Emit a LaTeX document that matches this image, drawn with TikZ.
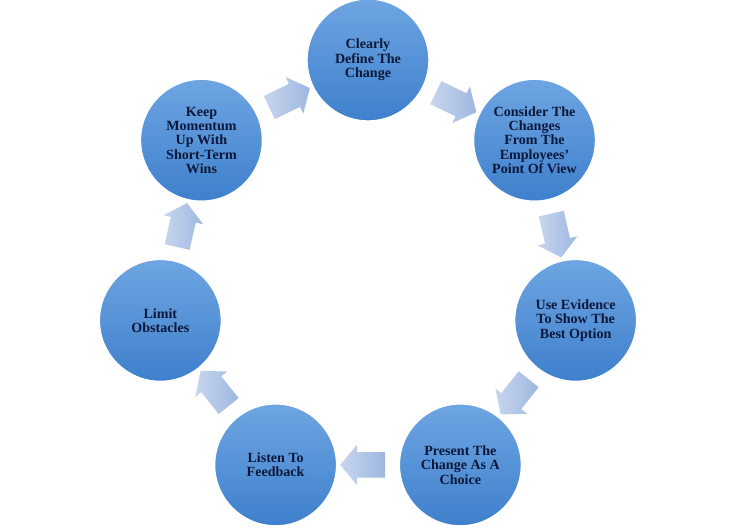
\documentclass[tikz,border=0pt]{standalone}
\usepackage{fontspec}
\setmainfont{Liberation Serif}
\usepackage{tikz}
\usetikzlibrary{shapes.arrows,calc}
\definecolor{circtop}{RGB}{110,165,226}
\definecolor{circbot}{RGB}{62,128,204}
\definecolor{arrtail}{RGB}{200,214,238}
\definecolor{arrtip}{RGB}{158,183,224}
\definecolor{textnavy}{RGB}{12,24,58}
\tikzset{
  stepcircle/.style={circle, draw=white, line width=1pt, top color=circtop,
    bottom color=circbot, minimum size=3.05cm, inner sep=0pt, align=center,
    text=textnavy, font=\fontsize{10}{10.2}\selectfont\bfseries},
  cyclearrow/.style={single arrow, draw=none, left color=arrtail,
    right color=arrtip, minimum height=1.125cm, minimum width=1.0cm,
    inner xsep=0pt, inner ysep=0.3125cm, single arrow head extend=0.1875cm,
    single arrow tip angle=100},
}
\begin{document}
\begin{tikzpicture}
  \fill[white] (-9.2,-6.375) rectangle (9.175,6.825);
  \useasboundingbox (-9.2,-6.375) rectangle (9.175,6.825);

  \node[stepcircle] (define) at (90:5.325) {Clearly\\Define The\\Change};
  \node[stepcircle] (consider) at (38.57:5.325)
    {Consider The\\Changes\\From The\\Employees’\\Point Of View};
  \node[stepcircle] (evidence) at (-12.86:5.325)
    {Use Evidence\\To Show The\\Best Option};
  \node[stepcircle] (choice) at (-64.29:5.325)
    {Present The\\Change As A\\Choice};
  \node[stepcircle] (feedback) at (-115.71:5.325) {Listen To\\Feedback};
  \node[stepcircle] (obstacles) at (-167.14:5.325) {Limit\\Obstacles};
  \node[stepcircle] (momentum) at (141.43:5.325)
    {Keep\\Momentum\\Up With\\Short-Term\\Wins};

  % block arrows between the steps
  \node[cyclearrow, rotate=-25.71] (a1) at ($(define)!0.5!(consider)$) {};
  \node[cyclearrow, rotate=-77.14] (a2) at ($(consider)!0.5!(evidence)$) {};
  \node[cyclearrow, rotate=-128.57] (a3) at ($(evidence)!0.5!(choice)$) {};
  \node[cyclearrow, rotate=180] (a4) at ($(choice)!0.5!(feedback)$) {};
  \node[cyclearrow, rotate=128.57] (a5) at ($(feedback)!0.5!(obstacles)$) {};
  \node[cyclearrow, rotate=77.14] (a6) at ($(obstacles)!0.5!(momentum)$) {};
  \node[cyclearrow, rotate=25.71] (a7) at ($(momentum)!0.5!(define)$) {};
\end{tikzpicture}
\end{document}
